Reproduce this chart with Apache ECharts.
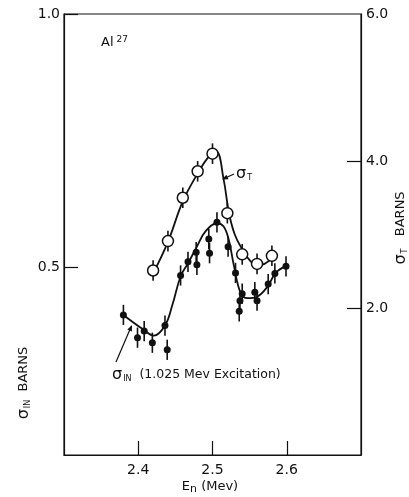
<!DOCTYPE html>
<html>
<head>
<meta charset="utf-8">
<script src="https://cdn.jsdelivr.net/npm/echarts@6/dist/echarts.min.js"></script>
<style>
  html, body { margin: 0; padding: 0; background: #fff; }
  #chart { width: 409px; height: 497px; }
</style>
</head>
<body>
<div id="chart"></div>
<script>
// total cross section (right axis, barns) - open circles
const energyT = [2.42, 2.44, 2.46, 2.48, 2.50, 2.52, 2.54, 2.56, 2.58];
const sigmaT = [2.51, 2.91, 3.50, 3.86, 4.10, 3.29, 2.73, 2.60, 2.71];
const errT = [0.14, 0.14, 0.14, 0.14, 0.14, 0.14, 0.14, 0.14, 0.14];

// hand drawn curve through sigma T
const curveTx = [2.42, 2.44, 2.46, 2.48, 2.495, 2.505, 2.515, 2.522, 2.53, 2.54, 2.55, 2.56, 2.57, 2.58];
const curveTy = [2.47, 2.90, 3.45, 3.83, 4.06, 4.13, 3.75, 3.30, 3.00, 2.80, 2.65, 2.58, 2.60, 2.68];

// inelastic cross section (left axis, barns) - filled dots
const energyIN = [2.380, 2.399, 2.408, 2.419, 2.436, 2.439, 2.457, 2.467, 2.478, 2.479, 2.495, 2.496,
  2.506, 2.521, 2.531, 2.540, 2.537, 2.536, 2.557, 2.560, 2.575, 2.584, 2.599];
const sigmaIN = [0.405, 0.360, 0.373, 0.350, 0.384, 0.336, 0.483, 0.510, 0.529, 0.504, 0.555, 0.527,
  0.588, 0.540, 0.488, 0.447, 0.433, 0.412, 0.450, 0.433, 0.466, 0.487, 0.501];
const errIN = 0.02;

// hand drawn curve through sigma IN
const curveINx = [2.380, 2.407, 2.421, 2.436, 2.446, 2.457, 2.467, 2.479, 2.491, 2.506, 2.515, 2.522,
  2.529, 2.538, 2.547, 2.560, 2.574, 2.585, 2.599];
const curveINy = [0.405, 0.376, 0.364, 0.384, 0.425, 0.481, 0.507, 0.540, 0.571, 0.586, 0.580, 0.553,
  0.501, 0.448, 0.438, 0.441, 0.461, 0.488, 0.502];

const xTicks = [2.4, 2.5, 2.6];
const leftTicks = [0.5, 1.0];
const rightTicks = [2.0, 4.0, 6.0];

const font = 'DejaVu Sans';
const ink = '#111';

const chart = echarts.init(document.getElementById('chart'));

function errorBars(xs, ys, errs, axisIndex) {
  return {
    type: 'custom',
    yAxisIndex: axisIndex,
    z: 1,
    silent: true,
    data: xs.map((x, i) => [x, ys[i], Array.isArray(errs) ? errs[i] : errs]),
    renderItem: (params, api) => {
      const x = api.value(0), y = api.value(1), e = api.value(2);
      const lo = api.coord([x, y - e]);
      const hi = api.coord([x, y + e]);
      return {
        type: 'line',
        shape: { x1: lo[0], y1: lo[1], x2: hi[0], y2: hi[1] },
        style: { stroke: ink, lineWidth: 1.6 }
      };
    }
  };
}

function arrowHead(tipX, tipY, fromX, fromY) {
  const a = Math.atan2(tipY - fromY, tipX - fromX);
  const len = 6, w = 2.5;
  const bx = tipX - len * Math.cos(a), by = tipY - len * Math.sin(a);
  return {
    type: 'polygon',
    shape: { points: [[tipX, tipY],
      [bx + w * Math.sin(a), by - w * Math.cos(a)],
      [bx - w * Math.sin(a), by + w * Math.cos(a)]] },
    style: { fill: ink }
  };
}

const option = {
  backgroundColor: '#fff',
  animation: false,
  grid: { left: 64, right: 48, top: 14, bottom: 42, show: true, borderColor: ink, borderWidth: 1.2 },
  xAxis: {
    type: 'value', min: 2.3, max: 2.7,
    axisLine: { lineStyle: { color: ink, width: 1.2 } },
    axisTick: { inside: true, length: 14, customValues: xTicks, lineStyle: { color: ink, width: 1.2 } },
    axisLabel: { customValues: xTicks, color: ink, fontFamily: font, fontSize: 14, margin: 8,
      formatter: v => v.toFixed(1) },
    splitLine: { show: false }
  },
  yAxis: [{
    type: 'value', min: 0.128, max: 1.0, position: 'left',
    axisLine: { show: true, lineStyle: { color: ink, width: 1.2 } },
    axisTick: { inside: true, length: 14, customValues: leftTicks, lineStyle: { color: ink, width: 1.2 } },
    axisLabel: { customValues: leftTicks, color: ink, fontFamily: font, fontSize: 14, margin: 4,
      formatter: v => v.toFixed(1) },
    splitLine: { show: false }
  }, {
    type: 'value', min: 0, max: 6, position: 'right',
    axisLine: { show: true, lineStyle: { color: ink, width: 1.2 } },
    axisTick: { inside: true, length: 14, customValues: [2.0, 4.0], lineStyle: { color: ink, width: 1.2 } },
    axisLabel: { customValues: rightTicks, color: ink, fontFamily: font, fontSize: 14, margin: 5,
      formatter: v => v.toFixed(1) },
    splitLine: { show: false }
  }],
  series: [
    {
      type: 'line', yAxisIndex: 1, smooth: 0.4, showSymbol: false, z: 2,
      data: curveTx.map((x, i) => [x, curveTy[i]]),
      lineStyle: { color: ink, width: 1.8 }
    },
    {
      type: 'line', yAxisIndex: 0, smooth: 0.4, showSymbol: false, z: 2,
      data: curveINx.map((x, i) => [x, curveINy[i]]),
      lineStyle: { color: ink, width: 1.8 }
    },
    errorBars(energyT, sigmaT, errT, 1),
    errorBars(energyIN, sigmaIN, errIN, 0),
    {
      type: 'scatter', yAxisIndex: 1, z: 3, symbol: 'circle', symbolSize: 11,
      data: energyT.map((x, i) => [x, sigmaT[i]]),
      itemStyle: { color: '#fff', borderColor: ink, borderWidth: 1.5, opacity: 1 }
    },
    {
      type: 'scatter', yAxisIndex: 0, z: 3, symbol: 'circle', symbolSize: 7,
      data: energyIN.map((x, i) => [x, sigmaIN[i]]),
      itemStyle: { color: ink, opacity: 1 }
    }
  ],
  graphic: [
    {
      type: 'text', left: 101, top: 35,
      style: {
        text: '{a|Al}{s|27}', fill: ink,
        rich: {
          a: { fontFamily: font, fontSize: 13, fill: ink },
          s: { fontFamily: font, fontSize: 9, fill: ink, verticalAlign: 'top', padding: [0, 0, 6, 3] }
        }
      }
    },
    {
      type: 'text', x: 236, y: 174,
      style: {
        text: '{g|σ}{s|T}', fill: ink, verticalAlign: 'middle',
        rich: {
          g: { fontFamily: font, fontSize: 16, fill: ink },
          s: { fontFamily: font, fontSize: 8, fill: ink, padding: [8, 0, 0, 1] }
        }
      }
    },
    { type: 'line', shape: { x1: 234, y1: 174, x2: 223, y2: 179 }, style: { stroke: ink, lineWidth: 1.2 } },
    arrowHead(222, 179.5, 234, 174),
    {
      type: 'text', x: 112, y: 375,
      style: {
        text: '{g|σ}{s|IN}{t|  (1.025 Mev Excitation)}', fill: ink, verticalAlign: 'middle',
        rich: {
          g: { fontFamily: font, fontSize: 16, fill: ink },
          s: { fontFamily: font, fontSize: 8, fill: ink, padding: [8, 0, 0, 1] },
          t: { fontFamily: font, fontSize: 12.5, fill: ink }
        }
      }
    },
    { type: 'line', shape: { x1: 116, y1: 362, x2: 131, y2: 327 }, style: { stroke: ink, lineWidth: 1.2 } },
    arrowHead(132, 325, 116, 362),
    {
      type: 'text', x: 24, y: 383, rotation: Math.PI / 2,
      style: {
        text: '{g|σ}{s|IN}{t|  BARNS}', fill: ink, align: 'center', verticalAlign: 'middle',
        rich: {
          g: { fontFamily: font, fontSize: 16, fill: ink },
          s: { fontFamily: font, fontSize: 8, fill: ink, padding: [8, 0, 0, 1] },
          t: { fontFamily: font, fontSize: 13, fill: ink }
        }
      }
    },
    {
      type: 'text', x: 401, y: 228, rotation: Math.PI / 2,
      style: {
        text: '{g|σ}{s|T}{t|   BARNS}', fill: ink, align: 'center', verticalAlign: 'middle',
        rich: {
          g: { fontFamily: font, fontSize: 16, fill: ink },
          s: { fontFamily: font, fontSize: 8, fill: ink, padding: [8, 0, 0, 1] },
          t: { fontFamily: font, fontSize: 13, fill: ink }
        }
      }
    },
    {
      type: 'text', x: 210, y: 487,
      style: {
        text: '{e|E}{n|n}{t| (Mev)}', fill: ink, align: 'center', verticalAlign: 'middle',
        rich: {
          e: { fontFamily: font, fontSize: 13, fill: ink },
          n: { fontFamily: font, fontSize: 11, fill: ink, padding: [4, 0, 0, 0] },
          t: { fontFamily: font, fontSize: 13, fill: ink }
        }
      }
    }
  ]
};

chart.setOption(option);
</script>
</body>
</html>
